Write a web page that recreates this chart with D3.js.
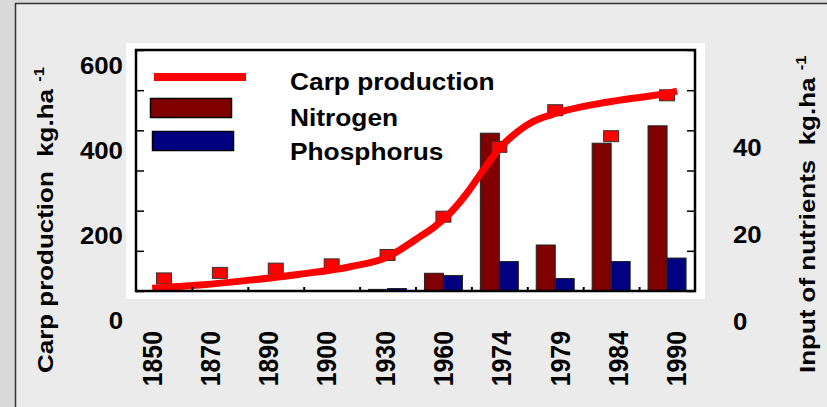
<!DOCTYPE html>
<meta charset="utf-8">
<style>
body { margin: 0; background: #ebebeb; }
svg { display: block; font-family: Arial, "Liberation Sans", sans-serif; font-weight: bold; }
</style>
<body>
<div id="chart"></div>
<script src="https://cdn.jsdelivr.net/npm/d3@7"></script>
<script>

var width = 827,
    height = 407;

var years = ["1850", "1870", "1890", "1900", "1930", "1960", "1974", "1979", "1984", "1990"];
var carp = [100, 113, 123, 133, 155, 245, 409, 495, 434, 530];
var nitrogen = [null, null, null, null, 7.5, 11.2, 43.4, 17.7, 41.1, 45.1];
var phosphorus = [null, null, null, null, 7.7, 10.7, 13.9, 10.0, 13.9, 14.7];

// fitted carp curve (x in category units, 0 = 1850)
var fitPos = [-0.21, 0.64, 1.54, 2.43, 3.33, 4.01, 4.22, 4.58, 4.81, 5.12, 5.42, 5.71, 6.01, 6.32, 6.60, 6.91, 7.21, 7.80, 8.39, 8.99, 9.18];
var fitCarp = [77, 84.5, 96, 110, 127.5, 151, 167, 198, 218, 253.5, 300, 354, 406, 444, 468, 483.6, 495, 511, 523, 534.5, 540];

var carpTicks = [0, 200, 400, 600];
var nutrientTicks = [0, 20, 40];
var legendNames = ["Carp production", "Nitrogen", "Phosphorus"];

var plot = {left: 136, right: 695, top: 50, bottom: 291};

var svg = d3.select("#chart").append("svg")
    .attr("width", width)
    .attr("height", height);

// slide background and frame
svg.append("rect").attr("width", width).attr("height", height).attr("fill", "#ebebeb");
svg.append("rect").attr("width", 15).attr("height", height).attr("fill", "#dadada");
svg.append("rect").attr("width", width).attr("height", 3).attr("fill", "#dadada");
svg.append("path")
    .attr("d", "M15.5," + height + "V3.5H" + width)
    .attr("fill", "none")
    .attr("stroke", "#333")
    .attr("stroke-width", 1.5);

svg.append("rect")
    .attr("x", 126).attr("y", 43)
    .attr("width", 705 - 126).attr("height", 299 - 43)
    .attr("fill", "#fff");

var x = d3.scaleBand().domain(years).range([plot.left, plot.right]);
var xPos = d3.scaleLinear().domain([-0.5, 9.5]).range([plot.left, plot.right]);
var xSub = d3.scaleBand().domain(["N", "P"])
    .range([(x.bandwidth() - 38) / 2, (x.bandwidth() + 38) / 2]);
var xLabel = d3.scaleBand().domain(years).range([123, 706]);
var yCarp = d3.scaleLinear().domain([0, 600]).range([321, 65.5]);
var yNut = d3.scaleLinear().domain([0, 40]).range([322, 148]);
var yFrame = d3.scaleLinear().domain([0, 6]).range([plot.bottom, plot.top]);

svg.append("clipPath").attr("id", "plotClip")
  .append("rect")
    .attr("x", plot.left).attr("y", plot.top)
    .attr("width", plot.right - plot.left).attr("height", plot.bottom - plot.top);

// bars
var bars = svg.append("g").attr("clip-path", "url(#plotClip)");
[["N", nitrogen, "#800000"], ["P", phosphorus, "#000080"]].forEach(function(s) {
    bars.selectAll(null)
        .data(years.map(function(y, i) { return {year: y, v: s[1][i]}; })
            .filter(function(d) { return d.v != null; }))
      .enter().append("rect")
        .attr("x", function(d) { return x(d.year) + xSub(s[0]); })
        .attr("y", function(d) { return yNut(d.v); })
        .attr("width", xSub.bandwidth())
        .attr("height", function(d) { return yNut(0) - yNut(d.v); })
        .attr("fill", s[2])
        .attr("stroke", "#222")
        .attr("stroke-width", 1);
});

// carp markers
svg.append("g").selectAll("rect")
    .data(carp)
  .enter().append("rect")
    .attr("x", function(d, i) { return x(years[i]) + x.bandwidth() / 2 - 7.5; })
    .attr("y", function(d) { return yCarp(d) - 5.5; })
    .attr("width", 15)
    .attr("height", 11)
    .attr("fill", "#ff0000")
    .attr("stroke", "#333")
    .attr("stroke-width", 1);

// fitted curve
var line = d3.line()
    .x(function(d) { return xPos(d[0]); })
    .y(function(d) { return yCarp(d[1]); })
    .curve(d3.curveMonotoneX);

svg.append("path")
    .datum(d3.zip(fitPos, fitCarp))
    .attr("d", line)
    .attr("fill", "none")
    .attr("stroke", "#ff0000")
    .attr("stroke-width", 7);

// frame ticks
svg.append("g")
    .attr("transform", "translate(" + plot.left + ",0)")
    .call(d3.axisRight(yFrame).ticks(6).tickSize(8).tickFormat(""))
    .call(function(g) { g.select(".domain").remove(); })
    .selectAll("line").attr("stroke", "#000").attr("stroke-width", 1.5);

svg.append("g")
    .attr("transform", "translate(" + plot.right + ",0)")
    .call(d3.axisLeft(yFrame).ticks(6).tickSize(8).tickFormat(""))
    .call(function(g) { g.select(".domain").remove(); })
    .selectAll("line").attr("stroke", "#000").attr("stroke-width", 1.5);

svg.append("g")
    .attr("transform", "translate(0," + plot.bottom + ")")
    .call(d3.axisTop(xPos).tickValues(d3.range(0.5, 9, 1)).tickSize(4).tickFormat(""))
    .call(function(g) { g.select(".domain").remove(); })
    .selectAll("line").attr("stroke", "#000").attr("stroke-width", 2);

svg.append("rect")
    .attr("x", plot.left).attr("y", plot.top)
    .attr("width", plot.right - plot.left).attr("height", plot.bottom - plot.top)
    .attr("fill", "none")
    .attr("stroke", "#000")
    .attr("stroke-width", 2.5);

// tick labels
function styleLabels(g) {
    g.select(".domain").remove();
    g.attr("font-size", null).attr("font-family", null);
    g.selectAll("text")
        .attr("fill", "#000")
        .style("font-size", "23.5px")
        .attr("transform", "scale(1.1,1)");
}

svg.append("g")
    .attr("transform", "translate(123,0)")
    .call(d3.axisLeft(yCarp).tickValues(carpTicks).tickSize(0).tickPadding(0))
    .call(styleLabels);

svg.append("g")
    .attr("transform", "translate(733,0)")
    .call(d3.axisRight(yNut).tickValues(nutrientTicks).tickSize(0).tickPadding(0))
    .call(styleLabels);

svg.append("g").selectAll("text")
    .data(years)
  .enter().append("text")
    .attr("transform", function(d) { return "translate(" + (xLabel(d) + xLabel.bandwidth() / 2) + ",331) rotate(-90) scale(0.92,1)"; })
    .attr("text-anchor", "end")
    .attr("dominant-baseline", "central")
    .style("font-size", "27px")
    .text(function(d) { return d; });

// legend
var legend = svg.append("g");
legend.append("line")
    .attr("x1", 154).attr("x2", 246).attr("y1", 77).attr("y2", 77)
    .attr("stroke", "#ff0000").attr("stroke-width", 8);
legend.append("rect")
    .attr("x", 150.5).attr("y", 98.5).attr("width", 81).attr("height", 19)
    .attr("fill", "#800000").attr("stroke", "#000").attr("stroke-width", 1.5);
legend.append("rect")
    .attr("x", 152.5).attr("y", 131.5).attr("width", 81).attr("height", 19)
    .attr("fill", "#000080").attr("stroke", "#000").attr("stroke-width", 1.5);
legend.selectAll("text")
    .data(legendNames)
  .enter().append("text")
    .attr("transform", function(d, i) { return "translate(290," + [90, 126, 160][i] + ") scale(1.12,1)"; })
    .style("font-size", "23.5px")
    .text(function(d) { return d; });

// axis titles
function title(xp, label) {
    var t = svg.append("text")
        .attr("transform", "translate(" + xp + ",373) rotate(-90) scale(1.18,1)")
        .style("font-size", "22px")
        .style("white-space", "pre");
    t.append("tspan").text(label + "  kg.ha ");
    t.append("tspan").attr("dy", -9).style("font-size", "14px").text("-1");
}
title(53, "Carp production");
title(815, "Input of nutrients");

</script>
